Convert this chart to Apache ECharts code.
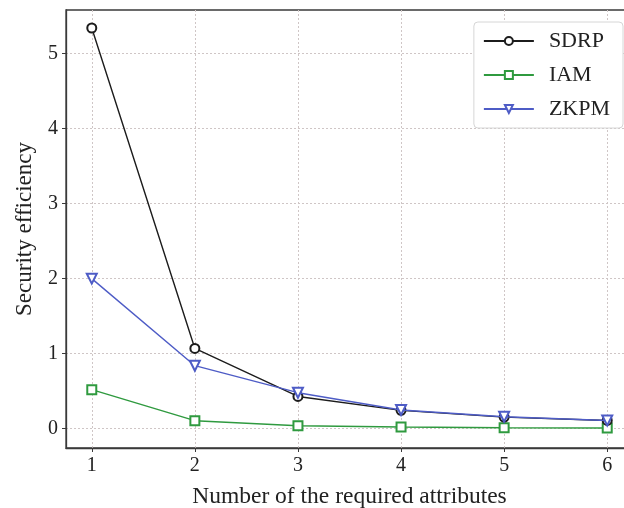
<!DOCTYPE html>
<html>
<head>
<meta charset="utf-8">
<script src="https://cdn.jsdelivr.net/npm/echarts@6/dist/echarts.min.js"></script>
<style>
  html, body { margin: 0; padding: 0; background: #fff; }
  #myChart { width: 624px; height: 508px; }
</style>
</head>
<body>
<div id="myChart"></div>
<script>
// 横轴: 所需属性数量
var attrs = [1, 2, 3, 4, 5, 6];
var sdrp = [5.34, 1.07, 0.43, 0.245, 0.155, 0.11];
var iam = [0.52, 0.107, 0.04, 0.022, 0.012, 0.01];
var zkpm = [2.0, 0.84, 0.48, 0.25, 0.16, 0.11];
var yTicks = [0, 1, 2, 3, 4, 5];

function pairs(vals) {
  return attrs.map(function (x, i) { return [x, vals[i]]; });
}

var serif = '"Liberation Serif", "DejaVu Serif", serif';
var gridLine = { show: true, lineStyle: { color: '#cfc6c6', type: [2, 2], width: 1 } };

var myChart = echarts.init(document.getElementById('myChart'));
var option = {
  backgroundColor: '#fff',
  animation: false,
  grid: {
    left: 66, right: -9, top: 10, bottom: 60,
    outerBoundsMode: 'none',
    containLabel: false,
    show: true, borderColor: '#3a3a3a', borderWidth: 1.3
  },
  legend: {
    right: 1, top: 22,
    orient: 'vertical',
    itemWidth: 50, itemHeight: 10, itemGap: 12,
    padding: [8, 13, 8, 9],
    borderColor: '#d6d6d6', borderWidth: 1, borderRadius: 4,
    backgroundColor: '#fff',
    textStyle: { fontFamily: serif, fontSize: 22, color: '#222', padding: [0, 0, 0, 10] },
    data: ['SDRP', 'IAM', 'ZKPM']
  },
  xAxis: {
    type: 'value',
    min: 0.75, max: 6.25,
    name: 'Number of the required attributes',
    nameLocation: 'middle', nameGap: 37,
    nameTextStyle: { fontFamily: serif, fontSize: 23.5, color: '#222' },
    axisLine: { show: true, onZero: false, lineStyle: { color: '#3a3a3a', width: 1.3 } },
    axisTick: { show: true, length: 4, lineStyle: { color: '#3a3a3a' }, customValues: attrs },
    axisLabel: {
      fontFamily: serif, fontSize: 20, color: '#222', margin: 8,
      customValues: attrs
    },
    splitLine: gridLine,
    interval: 1
  },
  yAxis: {
    type: 'value',
    min: -0.257, max: 5.58,
    name: 'Security efficiency',
    nameLocation: 'middle', nameGap: 30,
    nameTextStyle: { fontFamily: serif, fontSize: 23, color: '#222' },
    axisLine: { show: true, onZero: false, lineStyle: { color: '#3a3a3a', width: 1.3 } },
    axisTick: { show: true, length: 4, lineStyle: { color: '#3a3a3a' }, customValues: yTicks },
    axisLabel: {
      fontFamily: serif, fontSize: 20, color: '#222', margin: 8,
      customValues: yTicks
    },
    splitLine: gridLine
  },
  series: [
    {
      name: 'SDRP', type: 'line', data: pairs(sdrp),
      symbol: 'emptyCircle', symbolSize: 9,
      lineStyle: { color: '#1c1c1c', width: 1.4 },
      itemStyle: { color: '#1c1c1c', borderWidth: 1.4 },
      z: 3
    },
    {
      name: 'IAM', type: 'line', data: pairs(iam),
      symbol: 'emptyRect', symbolSize: 9,
      lineStyle: { color: '#2f9a3f', width: 1.4 },
      itemStyle: { color: '#2f9a3f', borderWidth: 1.4 },
      z: 2
    },
    {
      name: 'ZKPM', type: 'line', data: pairs(zkpm),
      symbol: 'emptyTriangle', symbolRotate: 180, symbolSize: 10,
      lineStyle: { color: '#4e5cc6', width: 1.4 },
      itemStyle: { color: '#4e5cc6', borderWidth: 1.4 },
      z: 4
    }
  ]
};
myChart.setOption(option);
</script>
</body>
</html>
